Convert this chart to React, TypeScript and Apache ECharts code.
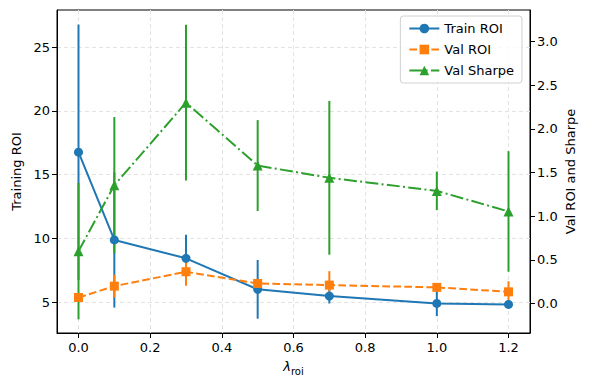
import React, { useEffect, useRef } from "react";
import * as echarts from "echarts";

const lambdas = [0, 0.1, 0.3, 0.5, 0.7, 1.0, 1.2];
const trainRoi = [16.76, 9.89, 8.45, 6.02, 5.49, 4.92, 4.84];
const trainRoiErr = [10.0, 5.3, 1.85, 2.3, 0.58, 1.0, 0.3];
const valRoi = [0.07, 0.2, 0.365, 0.231, 0.212, 0.186, 0.135];
const valRoiErr = [0.05, 0.13, 0.16, 0.03, 0.16, 0.03, 0.12];
const valSharpe = [0.6, 1.355, 2.3, 1.58, 1.44, 1.29, 1.055];
const valSharpeErr = [0.78, 0.78, 0.89, 0.52, 0.88, 0.22, 0.69];

const xTicks = [0, 0.2, 0.4, 0.6, 0.8, 1.0, 1.2];
const leftTicks = [5, 10, 15, 20, 25];
const rightTicks = [0, 0.5, 1.0, 1.5, 2.0, 2.5, 3.0];

const C_BLUE = "#1f77b4";
const C_ORANGE = "#ff7f0e";
const C_GREEN = "#2ca02c";
const FONT = "DejaVu Sans";

function errSeries(name: string, ys: number[], es: number[], color: string, yAxisIndex: number) {
  return {
    type: "custom",
    name,
    xAxisIndex: 0,
    yAxisIndex,
    silent: true,
    clip: false,
    renderItem: (params: any, api: any) => {
      const x = api.value(0);
      const y = api.value(1);
      const e = api.value(2);
      const p1 = api.coord([x, y - e]);
      const p2 = api.coord([x, y + e]);
      return {
        type: "line",
        shape: { x1: p1[0], y1: p1[1], x2: p2[0], y2: p2[1] },
        style: { stroke: color, lineWidth: 2 },
      };
    },
    encode: { x: 0, y: 1 },
    data: lambdas.map((x, i) => [x, ys[i], es[i]]),
  };
}

function lineSeries(name: string, ys: number[], color: string, yAxisIndex: number, symbol: string, dash: any, size: number) {
  return {
    type: "line",
    name,
    xAxisIndex: 0,
    yAxisIndex,
    symbol,
    symbolSize: size,
    showSymbol: true,
    itemStyle: { color },
    lineStyle: { color, width: 2, type: dash },
    data: lambdas.map((x, i) => [x, ys[i]]),
  };
}

export default function App() {
  const ref = useRef<HTMLDivElement>(null);
  useEffect(() => {
    document.body.style.margin = "0";
    if (!ref.current) return;
    const chart = echarts.init(ref.current, null, { renderer: "svg" });
    const tickStyle = { show: true, length: 5, lineStyle: { color: "#000", width: 1 } };
    const splitStyle = { show: true, lineStyle: { color: "#e3e3e3", width: 1, type: [4, 3] } };
    chart.setOption({
      animation: false,
      backgroundColor: "#fff",
      textStyle: { fontFamily: FONT },
      grid: {
        left: 57,
        right: 60,
        top: 10,
        bottom: 57,
        show: true,
        borderColor: "#000",
        borderWidth: 1,
        backgroundColor: "transparent",
      },
      legend: {
        data: ["Train ROI", "Val ROI", "Val Sharpe"],
        orient: "vertical",
        right: 68,
        top: 16,
        itemWidth: 30,
        itemHeight: 12,
        itemGap: 8,
        padding: [6, 8, 6, 8],
        borderColor: "#d0d0d0",
        borderWidth: 1,
        borderRadius: 3,
        backgroundColor: "rgba(255,255,255,0.8)",
        textStyle: { fontFamily: FONT, fontSize: 13, color: "#000" },
      },
      xAxis: {
        type: "value",
        min: -0.06,
        max: 1.26,
        name: "{a|λ}{b|roi}",
        nameLocation: "middle",
        nameGap: 24,
        nameTextStyle: {
          rich: {
            a: { fontFamily: FONT, fontSize: 13, fontStyle: "italic", color: "#000" },
            b: { fontFamily: FONT, fontSize: 10, color: "#000", padding: [9, 0, 0, 0] },
          },
        },
        axisLine: { show: true, onZero: false, lineStyle: { color: "#000", width: 1 } },
        axisTick: { ...tickStyle, customValues: xTicks },
        axisLabel: {
          customValues: xTicks,
          formatter: (v: number) => v.toFixed(1),
          color: "#000",
          fontSize: 13,
          fontFamily: FONT,
          margin: 8,
        },
        splitLine: splitStyle,
      },
      yAxis: [
        {
          type: "value",
          position: "left",
          min: 2.6,
          max: 27.9,
          name: "Training ROI",
          nameLocation: "middle",
          nameGap: 34,
          nameTextStyle: { fontFamily: FONT, fontSize: 13, color: "#000" },
          axisLine: { show: true, onZero: false, lineStyle: { color: "#000", width: 1 } },
          axisTick: { ...tickStyle, customValues: leftTicks },
          axisLabel: { customValues: leftTicks, color: "#000", fontSize: 13, fontFamily: FONT, margin: 7 },
          splitLine: splitStyle,
        },
        {
          type: "value",
          position: "right",
          min: -0.336,
          max: 3.36,
          name: "Val ROI and Sharpe",
          nameLocation: "middle",
          nameGap: 34,
          nameMoveOverlap: false,
          nameRotate: 90,
          nameTextStyle: { fontFamily: FONT, fontSize: 13, color: "#000" },
          axisLine: { show: true, onZero: false, lineStyle: { color: "#000", width: 1 } },
          axisTick: { ...tickStyle, customValues: rightTicks },
          axisLabel: {
            customValues: rightTicks,
            formatter: (v: number) => v.toFixed(1),
            color: "#000",
            fontSize: 13,
            fontFamily: FONT,
            margin: 7,
          },
          splitLine: { show: false },
        },
      ],
      series: [
        errSeries("err-train", trainRoi, trainRoiErr, C_BLUE, 0),
        lineSeries("Train ROI", trainRoi, C_BLUE, 0, "circle", "solid", 9),
        errSeries("err-valroi", valRoi, valRoiErr, C_ORANGE, 1),
        lineSeries("Val ROI", valRoi, C_ORANGE, 1, "rect", [7.7, 3.3], 9),
        errSeries("err-sharpe", valSharpe, valSharpeErr, C_GREEN, 1),
        lineSeries("Val Sharpe", valSharpe, C_GREEN, 1, "triangle", [13, 3.3, 2, 3.3], 10),
      ],
    });
    return () => chart.dispose();
  }, []);
  return <div ref={ref} style={{ width: 590, height: 390 }} />;
}
